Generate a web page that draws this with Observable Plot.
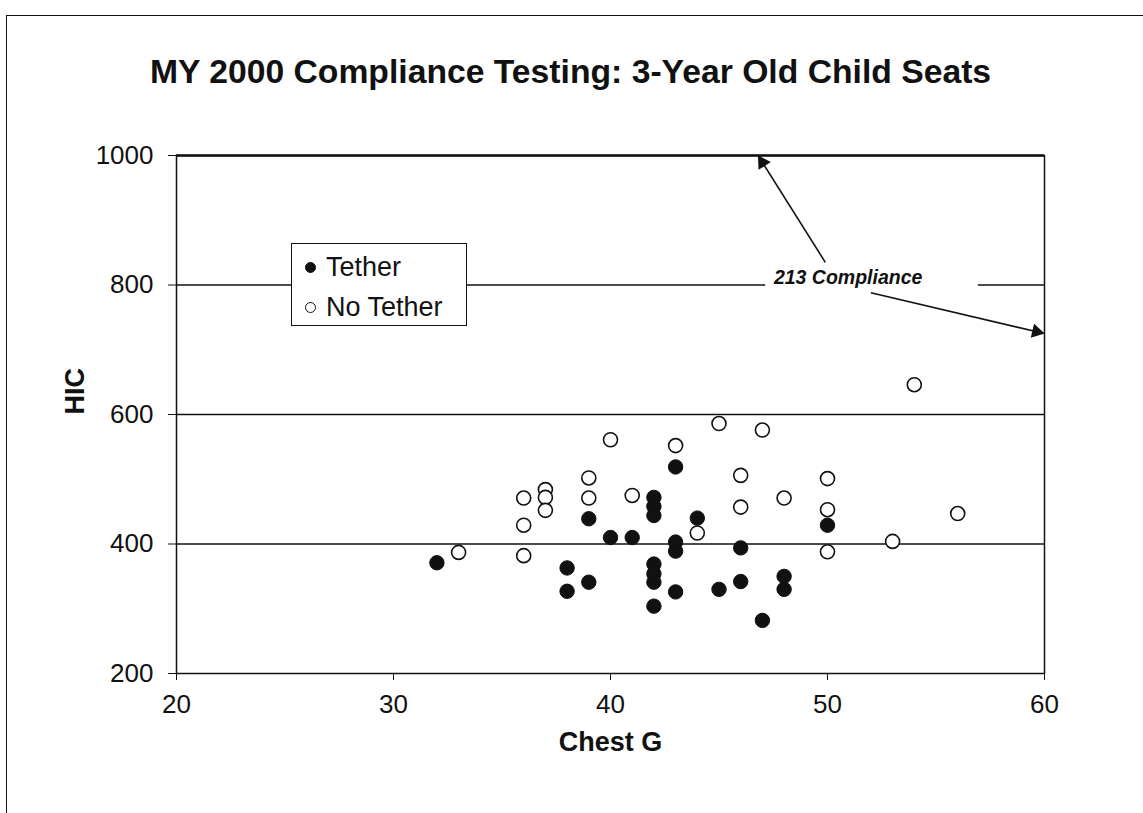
<!DOCTYPE html>
<html>
<head>
<meta charset="utf-8">
<script src="https://cdn.jsdelivr.net/npm/d3@7"></script>
<script src="https://cdn.jsdelivr.net/npm/@observablehq/plot@0.6"></script>
<style>
  html, body { margin: 0; padding: 0; background: #fff; overflow: hidden; }
  body { width: 1143px; height: 813px; position: relative; font-family: "Liberation Sans", Arial, sans-serif; }
  #outer { position: absolute; left: 6px; top: 15px; width: 1300px; height: 1000px; border: 1.5px solid #111; box-sizing: border-box; }
  #chart { position: absolute; left: 0; top: 0; }
  #legend { position: absolute; left: 291px; top: 243px; width: 176px; height: 83px; box-sizing: border-box;
            border: 1.5px solid #111; background: #fff; font-size: 27px; color: #111; }
  #legend .item { position: absolute; left: 13px; display: flex; align-items: center; line-height: 1; }
  #legend .mk { width: 11px; height: 11px; border-radius: 50%; border: 1.3px solid #111; box-sizing: border-box; margin-right: 10px; }
</style>
</head>
<body>
<div id="outer"></div>
<div id="chart"></div>
<div id="legend">
  <div class="item" style="top:10px"><span class="mk" style="background:#111"></span><span>Tether</span></div>
  <div class="item" style="top:50px"><span class="mk" style="background:#fff"></span><span>No Tether</span></div>
</div>
<script>
// Tether (filled) points: Chest G and HIC
const tetherChest = [32, 38, 38, 39, 39, 40, 41, 42, 42, 42, 42, 42, 42, 42, 43, 43, 43, 43, 44, 45, 46, 46, 47, 48, 48, 50];
const tetherHIC   = [371, 363, 327, 439, 341, 410, 410, 472, 458, 444, 369, 354, 341, 304, 519, 403, 389, 326, 440, 330, 394, 342, 282, 350, 330, 429];
// No Tether (open) points
const noTetherChest = [33, 36, 36, 36, 37, 37, 37, 39, 39, 40, 41, 43, 44, 45, 46, 46, 47, 48, 50, 50, 50, 53, 54, 56];
const noTetherHIC   = [387, 471, 429, 382, 484, 472, 452, 502, 471, 561, 475, 552, 417, 586, 506, 457, 576, 471, 501, 453, 388, 404, 646, 447];

const xTicks = [20, 30, 40, 50, 60];
const yTicks = [200, 400, 600, 800, 1000];
const gridLines = [400, 600, 800];
const limitHIC = [1000];

// Annotation "213 Compliance" (data units)
const annoLabel = ["213 Compliance"];
const annoX = [50.95];
const annoY = [811];
const annoBox = {x1: [47.15], x2: [56.95], y1: [792], y2: [830]};
const arrowFromX = [49.9, 52.0];
const arrowFromY = [835, 788];
const arrowToX = [46.8, 60];
const arrowToY = [1000, 725];

const xDomain = [20, 60], yDomain = [200, 1000];
const W = 1143, H = 813, mL = 176, mR = 99, mT = 155, mB = 140;

const tether = tetherChest.map((c, i) => ({chest: c, hic: tetherHIC[i]}));
const noTether = noTetherChest.map((c, i) => ({chest: c, hic: noTetherHIC[i]}));
const arrows = arrowFromX.map((x, i) => ({x1: x, y1: arrowFromY[i], x2: arrowToX[i], y2: arrowToY[i]}));

// Filled arrowheads: oriented along each arrow using the plot's own scales
const sx = Plot.scale({x: {domain: xDomain, range: [mL, W - mR]}});
const sy = Plot.scale({y: {domain: yDomain, range: [H - mB, mT]}});
const heads = arrows.map(a => {
  const px1 = sx.apply(a.x1), py1 = sy.apply(a.y1), px2 = sx.apply(a.x2), py2 = sy.apply(a.y2);
  const dx = px2 - px1, dy = py2 - py1, len = Math.hypot(dx, dy);
  const back = 8.2;
  return {
    x: sx.invert(px2 - dx / len * back),
    y: sy.invert(py2 - dy / len * back),
    angle: Math.atan2(dx, -dy) * 180 / Math.PI
  };
});

const chart = Plot.plot({
  width: W,
  height: H,
  marginLeft: mL,
  marginRight: mR,
  marginTop: mT,
  marginBottom: mB,
  style: {fontFamily: "'Liberation Sans', Arial, sans-serif", color: "#111", background: "transparent"},
  x: {domain: xDomain},
  y: {domain: yDomain},
  marks: [
    Plot.ruleY(gridLines, {stroke: "#111", strokeWidth: 1.5}),
    Plot.ruleY(limitHIC, {stroke: "#111", strokeWidth: 2.6}),
    Plot.frame({stroke: "#111", strokeWidth: 1.5}),
    Plot.axisX({ticks: xTicks, tickSize: 7, tickPadding: 14, fontSize: 26, label: null, stroke: "#111", tickFormat: d => String(d)}),
    Plot.axisY({ticks: yTicks, tickSize: 8, tickPadding: 15, fontSize: 26, label: null, stroke: "#111", tickFormat: d => String(d)}),
    Plot.rect(annoBox.x1.map((x1, i) => ({x1, x2: annoBox.x2[i], y1: annoBox.y1[i], y2: annoBox.y2[i]})),
      {x1: "x1", x2: "x2", y1: "y1", y2: "y2", fill: "white"}),
    Plot.text(annoLabel, {x: annoX, y: annoY, text: d => d, fontSize: 19.5, fontWeight: "bold", fontStyle: "italic", fill: "#111"}),
    Plot.link(arrows, {x1: "x1", y1: "y1", x2: "x2", y2: "y2", stroke: "#111", strokeWidth: 1.6}),
    Plot.dot(heads, {x: "x", y: "y", rotate: "angle", symbol: "triangle", r: 5.4, fill: "#111", stroke: "none"}),
    Plot.dot(noTether, {x: "chest", y: "hic", r: 7, fill: "white", stroke: "#111", strokeWidth: 1.6}),
    Plot.dot(tether, {x: "chest", y: "hic", r: 7.2, fill: "#111", stroke: "#111", strokeWidth: 1}),
    Plot.text(["MY 2000 Compliance Testing: 3-Year Old Child Seats"], {frameAnchor: "top", dx: -40, dy: -83, lineAnchor: "middle", fontSize: 33.7, fontWeight: "bold", fill: "#111", text: d => d}),
    Plot.text(["HIC"], {frameAnchor: "left", dx: -101, rotate: -90, fontSize: 27, fontWeight: "bold", fill: "#111", text: d => d}),
    Plot.text(["Chest G"], {frameAnchor: "bottom", dy: 69, lineAnchor: "middle", fontSize: 27, fontWeight: "bold", fill: "#111", text: d => d})
  ]
});
document.getElementById("chart").appendChild(chart);
</script>
</body>
</html>
